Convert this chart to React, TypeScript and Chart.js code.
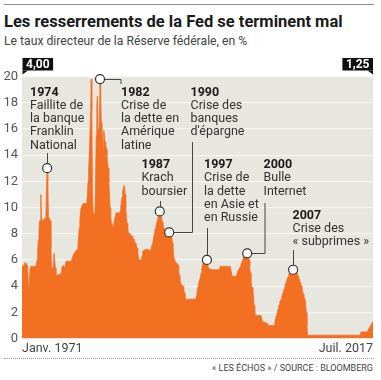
import React, { useEffect, useRef } from "react";
import { Chart, registerables } from "chart.js";

Chart.register(...registerables);

// ---------- DATA ----------
const START_YEAR = 1971;

// Monthly policy rate, %, Jan 1971 .. Dec 1979
const rates1970s = [
  5.6, 5.6, 5.5, 5.6, 5.7, 5.8, 5.8, 5.7, 5.6, 5.5, 4.0, 3.5,
  4.5, 5.4, 5.5, 5.5, 5.5, 5.5, 5.5, 5.5, 5.5, 5.5, 5.5, 5.6,
  6.0, 6.8, 7.5, 8.2, 9.0, 9.0, 11.0, 9.2, 9.0, 9.0, 9.0, 9.1,
  9.1, 9.2, 9.3, 11.5, 13.0, 12.0, 9.3, 9.2, 9.2, 9.0, 7.0, 5.5,
  5.3, 5.4, 5.6, 6.5, 6.5, 5.4, 4.9, 4.8, 4.8, 4.8, 4.9, 4.8,
  4.9, 5.0, 4.8, 5.3, 5.5, 5.3, 5.6, 5.4, 5.5, 5.6, 5.9, 5.9,
  5.9, 5.9, 5.9, 5.9, 5.9, 5.9, 5.9, 6.0, 6.2, 6.3, 6.4, 6.5,
  6.6, 6.6, 6.7, 6.7, 6.8, 7.2, 7.8, 8.4, 9.0, 9.6, 10.0, 10.1,
  10.2, 10.3, 10.3, 10.3, 10.3, 10.3, 10.3, 10.4, 11.0, 12.0, 13.0, 14.0,
];
// Jan 1980 .. Dec 1989
const rates1980s = [
  14.0, 17.0, 19.8, 17.5, 11.0, 9.6, 9.5, 9.5, 9.7, 12.0, 15.5, 18.0,
  18.5, 16.0, 15.5, 16.0, 19.8, 19.0, 16.5, 15.9, 15.5, 14.5, 15.9, 15.5,
  15.0, 14.8, 14.5, 14.0, 13.5, 13.0, 12.0, 11.0, 10.0, 9.5, 8.8, 8.5,
  8.5, 8.6, 8.7, 9.0, 9.3, 9.5, 9.6, 9.6, 9.6, 9.5, 9.6, 9.6,
  9.7, 10.0, 10.4, 10.8, 11.2, 11.5, 11.7, 11.6, 11.0, 10.0, 9.3, 8.8,
  8.5, 8.1, 8.1, 8.0, 8.0, 8.0, 7.8, 7.8, 7.7, 7.6, 7.5, 7.4,
  7.3, 7.2, 7.1, 6.9, 6.6, 6.2, 6.0, 6.0, 6.0, 6.0, 6.0, 6.3,
  6.7, 6.7, 6.7, 6.8, 6.8, 6.8, 6.8, 6.8, 6.7, 6.8, 6.7, 6.7,
  6.7, 6.8, 7.0, 7.2, 7.3, 7.6, 7.9, 8.2, 8.4, 8.6, 8.8, 9.0,
  9.2, 9.4, 9.6, 9.7, 9.5, 9.3, 9.1, 8.9, 8.7, 8.5, 8.4, 8.3,
];
// Jan 1990 .. Dec 1999
const rates1990s = [
  8.2, 8.2, 8.2, 8.2, 8.2, 8.2, 8.1, 8.1, 8.1, 8.1, 7.8, 7.3,
  7.0, 6.4, 6.0, 5.8, 5.8, 5.8, 5.8, 5.7, 5.6, 5.3, 4.8, 4.5,
  4.3, 4.1, 4.0, 4.0, 4.0, 3.8, 3.5, 3.2, 3.0, 3.0, 3.0, 3.0,
  3.0, 3.0, 3.0, 3.0, 3.0, 3.0, 3.0, 3.0, 3.0, 3.0, 3.0, 3.0,
  3.0, 3.2, 3.5, 3.7, 4.0, 4.3, 4.4, 4.6, 4.8, 5.0, 5.3, 5.6,
  5.8, 5.9, 6.0, 6.0, 6.0, 6.0, 6.0, 5.8, 5.4, 5.3, 5.3, 5.3,
  5.25, 5.25, 5.25, 5.25, 5.25, 5.25, 5.25, 5.25, 5.25, 5.25, 5.25, 5.25,
  5.25, 5.25, 5.25, 5.5, 5.5, 5.5, 5.5, 5.5, 5.5, 5.5, 5.5, 5.5,
  5.5, 5.5, 5.5, 5.5, 5.5, 5.5, 5.5, 5.5, 5.5, 5.0, 4.75, 4.75,
  4.75, 4.75, 4.75, 4.75, 4.75, 4.75, 5.0, 5.1, 5.25, 5.3, 5.4, 5.5,
];
// Jan 2000 .. Dec 2009
const rates2000s = [
  5.6, 5.75, 5.9, 6.0, 6.2, 6.4, 6.5, 6.5, 6.5, 6.5, 6.5, 6.5,
  6.5, 6.0, 5.5, 5.0, 4.5, 4.0, 3.9, 3.7, 3.2, 2.5, 2.0, 1.8,
  1.75, 1.75, 1.75, 1.75, 1.75, 1.75, 1.75, 1.75, 1.75, 1.75, 1.3, 1.25,
  1.25, 1.25, 1.2, 1.2, 1.2, 1.1, 1.1, 1.0, 1.0, 1.0, 1.0, 1.0,
  1.0, 1.0, 1.0, 1.0, 1.0, 1.0, 1.25, 1.5, 1.7, 1.8, 2.0, 2.25,
  2.5, 2.6, 2.8, 2.9, 3.0, 3.2, 3.3, 3.5, 3.7, 3.8, 4.0, 4.2,
  4.3, 4.5, 4.6, 4.7, 4.9, 5.0, 5.1, 5.2, 5.25, 5.25, 5.25, 5.25,
  5.25, 5.25, 5.25, 5.25, 5.25, 5.1, 4.9, 4.75, 4.6, 4.5, 4.3, 4.2,
  4.0, 3.8, 3.6, 3.4, 3.2, 3.1, 3.0, 3.0, 2.0, 1.0, 0.25, 0.25,
  0.25, 0.25, 0.25, 0.25, 0.25, 0.25, 0.25, 0.25, 0.25, 0.25, 0.25, 0.25,
];
// Jan 2010 .. Jul 2017
const rates2010s = [
  0.25, 0.25, 0.25, 0.25, 0.25, 0.25, 0.25, 0.25, 0.25, 0.25, 0.25, 0.25,
  0.25, 0.25, 0.25, 0.25, 0.25, 0.25, 0.25, 0.25, 0.25, 0.25, 0.25, 0.25,
  0.25, 0.25, 0.25, 0.25, 0.25, 0.25, 0.25, 0.25, 0.25, 0.25, 0.25, 0.25,
  0.25, 0.25, 0.25, 0.25, 0.25, 0.25, 0.25, 0.25, 0.25, 0.25, 0.25, 0.25,
  0.25, 0.25, 0.25, 0.25, 0.25, 0.25, 0.25, 0.25, 0.25, 0.25, 0.25, 0.25,
  0.25, 0.25, 0.25, 0.25, 0.25, 0.25, 0.25, 0.25, 0.25, 0.25, 0.25, 0.5,
  0.5, 0.5, 0.5, 0.5, 0.5, 0.5, 0.5, 0.5, 0.5, 0.5, 0.5, 0.75,
  0.75, 0.75, 1.0, 1.0, 1.0, 1.25, 1.25,
];

const tickLabels = ["Janv. 1971", "Juil. 2017"];
const startTag = "4,00";
const endTag = "1,25";

const noteYears = ["1974", "1982", "1987", "1990", "1997", "2000", "2007"];
const noteTexts = [
  ["Faillite de", "la banque", "Franklin", "National"],
  ["Crise de", "la dette en", "Amérique", "latine"],
  ["Krach", "boursier"],
  ["Crise des", "banques", "d'épargne"],
  ["Crise de", "la dette", "en Asie et", "en Russie"],
  ["Bulle", "Internet"],
  ["Crise des", "« subprimes »"],
];
// month (category) where each marker sits on the curve
const noteMonths = ["1974-05", "1981-05", "1989-04", "1990-07", "1995-07", "2000-11", "2006-12"];

// ---------- DERIVED ----------
const rates = [...rates1970s, ...rates1980s, ...rates1990s, ...rates2000s, ...rates2010s];
const months = rates.map((_, i) => {
  const y = START_YEAR + Math.floor(i / 12);
  const m = (i % 12) + 1;
  return `${y}-${m < 10 ? "0" + m : m}`;
});

// ---------- STYLE / LAYOUT ----------
const ORANGE = "#f36f21";
const PLOT_BG = "#e7e6df";
const FONT = "Roboto, 'Noto Sans', sans-serif";
const CANVAS_TOP = 50;

// text anchors (canvas coords) and connector kinds
type NoteLayout = { tx: number; ty: number; kind: "v" | "hr" | "rv" | "vl"; a: number; b?: number };
const noteLayout: NoteLayout[] = [
  { tx: 30, ty: 42.7, kind: "v", a: 103 },
  { tx: 121, ty: 42.7, kind: "hr", a: 121, b: 34 },
  { tx: 141.5, ty: 115, kind: "v", a: 151 },
  { tx: 190.5, ty: 42.7, kind: "rv", a: 192.5, b: 92 },
  { tx: 204, ty: 115, kind: "v", a: 178 },
  { tx: 263.5, ty: 115, kind: "vl", a: 265, b: 153 },
  { tx: 292.5, ty: 165.7, kind: "v", a: 200 },
];

const bgPlugin = {
  id: "plotBg",
  beforeDraw(chart: any) {
    const { ctx, chartArea: a } = chart;
    ctx.save();
    ctx.fillStyle = PLOT_BG;
    ctx.fillRect(a.left, a.top, a.right - a.left, a.bottom - a.top);
    ctx.restore();
  },
};

const notesPlugin = {
  id: "notes",
  afterDraw(chart: any) {
    const { ctx, chartArea: a } = chart;
    const xs = chart.scales.x;
    const ys = chart.scales.y;
    ctx.save();

    // value tags
    const drawTag = (text: string, left: boolean) => {
      ctx.font = `bold 12px ${FONT}`;
      const w = ctx.measureText(text).width + 7;
      const h = 12.5;
      const bottom = a.top - 6;
      const x0 = left ? a.left + 0.5 : a.right - w;
      ctx.fillStyle = "#111";
      ctx.fillRect(x0, bottom - h, w, h);
      ctx.beginPath();
      if (left) {
        ctx.moveTo(x0, bottom);
        ctx.lineTo(x0 + 5.5, bottom);
        ctx.lineTo(x0, bottom + 4);
      } else {
        ctx.moveTo(x0 + w, bottom);
        ctx.lineTo(x0 + w - 5.5, bottom);
        ctx.lineTo(x0 + w, bottom + 4);
      }
      ctx.closePath();
      ctx.fill();
      ctx.fillStyle = "#fff";
      ctx.textAlign = "center";
      ctx.textBaseline = "middle";
      ctx.fillText(text, x0 + w / 2, bottom - h / 2 + 0.5);
    };
    drawTag(startTag, true);
    drawTag(endTag, false);

    // connectors + markers + text
    noteYears.forEach((yr, i) => {
      const L = noteLayout[i];
      const idx = months.indexOf(noteMonths[i]);
      const mx = xs.getPixelForValue(idx);
      const my = ys.getPixelForValue(rates[idx]);
      ctx.strokeStyle = "#444";
      ctx.lineWidth = 1;
      ctx.beginPath();
      if (L.kind === "v") {
        ctx.moveTo(Math.round(mx) + 0.5, L.a);
        ctx.lineTo(Math.round(mx) + 0.5, my);
      } else if (L.kind === "hr" || L.kind === "rv") {
        ctx.moveTo(mx, Math.round(my) + 0.5);
        ctx.lineTo(L.a, Math.round(my) + 0.5);
        ctx.lineTo(L.a, L.b as number);
      } else {
        ctx.moveTo(L.a, L.b as number);
        ctx.lineTo(L.a, Math.round(my) + 0.5);
        ctx.lineTo(mx, Math.round(my) + 0.5);
      }
      ctx.stroke();

      ctx.beginPath();
      ctx.arc(mx, my, 4.5, 0, Math.PI * 2);
      ctx.fillStyle = "#fff";
      ctx.fill();
      ctx.strokeStyle = "#333";
      ctx.lineWidth = 1.2;
      ctx.stroke();

      ctx.textAlign = "left";
      ctx.textBaseline = "middle";
      ctx.fillStyle = "#1a1a1a";
      ctx.font = `bold 12.5px ${FONT}`;
      ctx.fillText(yr, L.tx, L.ty);
      ctx.fillStyle = "#333";
      ctx.font = `12.5px ${FONT}`;
      noteTexts[i].forEach((line, j) => {
        ctx.fillText(line, L.tx, L.ty + 13.2 * (j + 1));
      });
    });
    ctx.restore();
  },
};

export default function App() {
  const ref = useRef<HTMLCanvasElement | null>(null);

  useEffect(() => {
    if (!ref.current) return;
    Chart.defaults.font.family = FONT;
    const chart = new Chart(ref.current, {
      type: "line",
      data: {
        labels: months,
        datasets: [
          {
            data: rates,
            fill: "origin",
            backgroundColor: ORANGE,
            borderColor: ORANGE,
            borderWidth: 0.8,
            pointRadius: 0,
            tension: 0,
          },
        ],
      },
      options: {
        animation: false,
        responsive: false,
        devicePixelRatio: 1,
        layout: { padding: { top: 26.5, right: 8, left: 0, bottom: 0 } },
        plugins: { legend: { display: false }, tooltip: { enabled: false }, title: { display: false } },
        scales: {
          x: {
            type: "category",
            offset: false,
            grid: { display: false, drawTicks: false },
            border: { display: false },
            ticks: {
              autoSkip: false,
              maxRotation: 0,
              minRotation: 0,
              align: "inner",
              padding: 3,
              color: "#444",
              font: { size: 12.5 },
              callback: (_v: any, i: number, ticks: any[]) =>
                i === 0 ? tickLabels[0] : i === ticks.length - 1 ? tickLabels[1] : "",
            },
            afterFit: (s: any) => {
              s.height = 17.5;
            },
          },
          y: {
            min: 0,
            max: 20,
            z: 1,
            ticks: { stepSize: 2, padding: 4, color: "#555", font: { size: 13 } },
            grid: {
              color: (c: any) => (c.tick && c.tick.value === 0 ? "rgba(0,0,0,0)" : "rgba(255,255,255,0.6)"),
              lineWidth: 1.2,
              drawTicks: false,
            },
            border: { display: false },
            afterFit: (s: any) => {
              s.width = 22;
            },
          },
        },
      } as any,
      plugins: [bgPlugin, notesPlugin],
    });
    return () => chart.destroy();
  }, []);

  return (
    <div
      style={{
        position: "fixed",
        left: 0,
        top: 0,
        width: 381,
        height: 380,
        background: "#fff",
        fontFamily: FONT,
        overflow: "hidden",
      }}
    >
      <div style={{ position: "absolute", left: 4, top: 4, width: 370, height: 1, background: "#8c8c8c" }} />
      <div
        style={{
          position: "absolute",
          left: 4,
          top: 11,
          fontSize: 16.5,
          fontWeight: 700,
          color: "#1a1a1a",
          lineHeight: "22px",
          whiteSpace: "nowrap",
        }}
      >
        Les resserrements de la Fed se terminent mal
      </div>
      <div
        style={{
          position: "absolute",
          left: 4,
          top: 33,
          fontSize: 12.2,
          color: "#444",
          lineHeight: "17px",
          whiteSpace: "nowrap",
        }}
      >
        Le taux directeur de la Réserve fédérale, en %
      </div>
      <canvas
        ref={ref}
        width={381}
        height={306}
        style={{ position: "absolute", left: 0, top: CANVAS_TOP, width: 381, height: 306 }}
      />
      <div
        style={{ position: "absolute", left: 4, top: 358, width: 370, height: 0, borderTop: "1px dotted #999" }}
      />
      <div
        style={{
          position: "absolute",
          right: 8,
          top: 362,
          fontSize: 9,
          color: "#444",
          lineHeight: "12px",
          whiteSpace: "nowrap",
        }}
      >
        « LES ÉCHOS » / SOURCE : BLOOMBERG
      </div>
    </div>
  );
}
